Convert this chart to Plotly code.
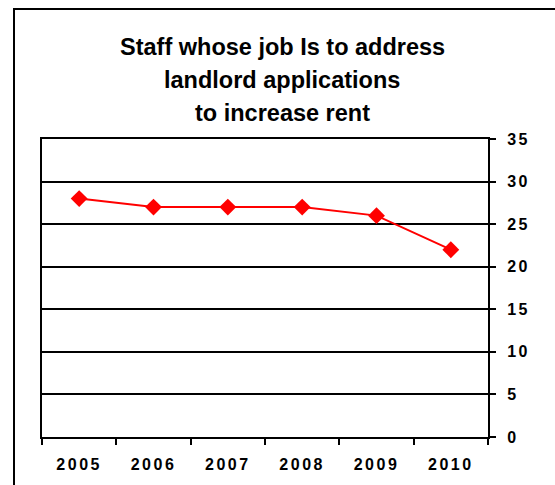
import plotly.graph_objects as go

years = ["2005", "2006", "2007", "2008", "2009", "2010"]
staff = [28, 27, 27, 27, 26, 22]
y_ticks = [0, 5, 10, 15, 20, 25, 30, 35]
title_lines = ["Staff whose job Is to address", "landlord applications", "to increase rent"]

W, H = 555, 485
L, R, T, B = 42, 488, 139, 437  # plot area pixel bounds
pw, ph = R - L, B - T

def px_x(x):
    return (x - L) / pw

def px_y(y):
    return (B - y) / ph

fig = go.Figure()
fig.add_trace(go.Scatter(
    x=years, y=staff, mode="lines+markers",
    line=dict(color="#ff0000", width=2),
    marker=dict(symbol="diamond", size=13, color="#ff0000"),
    showlegend=False,
))

font_family = "Liberation Sans, Arial, sans-serif"

fig.update_layout(
    width=W, height=H,
    margin=dict(l=L, r=W - R, t=T, b=H - B),
    paper_bgcolor="white", plot_bgcolor="white",
    font=dict(family=font_family, color="black"),
    xaxis=dict(
        type="category", range=[-0.5, len(years) - 0.5],
        tickson="boundaries", ticks="outside",
        ticklen=6, tickwidth=2, tickcolor="black",
        showline=True, mirror=True, linecolor="black", linewidth=2,
        showgrid=False, zeroline=False,
        tickfont=dict(size=16, family=font_family, color="black", weight="bold"),
        ticklabelstandoff=12,
        fixedrange=True,
    ),
    yaxis=dict(
        side="right", range=[0, 35], tickvals=y_ticks, ticktext=[str(v) for v in y_ticks],
        ticks="outside", ticklen=6, tickwidth=2, tickcolor="black",
        showline=True, mirror=True, linecolor="black", linewidth=2,
        showgrid=True, gridcolor="black", gridwidth=2,
        zeroline=False,
        tickfont=dict(size=16, family=font_family, color="black", weight="bold"),
        ticklabelstandoff=8,
        fixedrange=True,
    ),
)

# Title lines
title_y = [47, 80, 113]
for txt, yy in zip(title_lines, title_y):
    fig.add_annotation(
        text=txt, xref="paper", yref="paper",
        x=px_x(282), y=px_y(yy), xanchor="center", yanchor="middle",
        showarrow=False,
        font=dict(size=23.5, family=font_family, color="black", weight="bold"),
    )

# Outer chart border (extends beyond right and bottom edges)
fig.add_shape(
    type="rect", xref="paper", yref="paper",
    x0=px_x(14), y0=px_y(495), x1=px_x(565), y1=px_y(9),
    line=dict(color="black", width=2), fillcolor="rgba(0,0,0,0)", layer="above",
)

post = """
document.body.style.margin='0';
document.body.style.padding='0';
var s=document.createElement('style');
s.innerHTML='.xtick text,.ytick text{letter-spacing:2.5px}';
document.head.appendChild(s);
"""
fig.write_html("out.html", post_script=post, config={"displayModeBar": False})
